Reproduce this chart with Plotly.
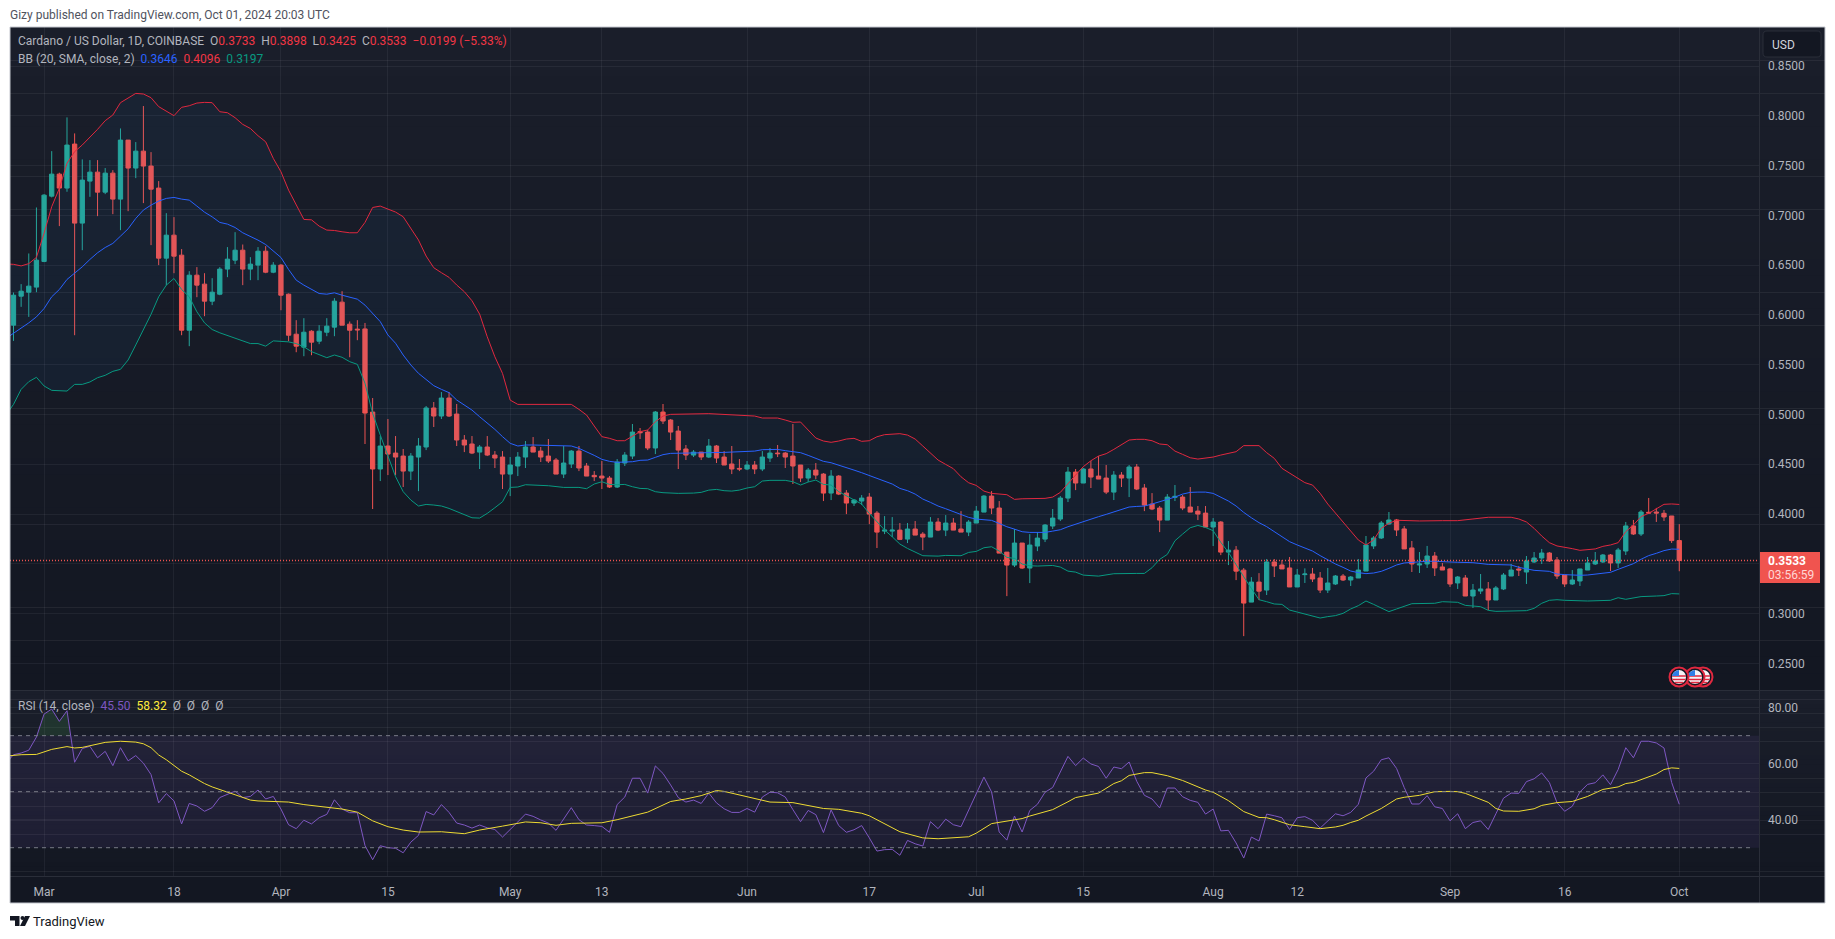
#!/usr/bin/env python3
"""Cardano / US Dollar daily chart with Bollinger Bands and RSI"""
import math
import pandas as pd
import plotly.graph_objects as go

W, H = 1835, 939

# one candle per day, first one is 2024-02-26
opens = [
    .5897, .6188, .6228, .6279, .6537, .7193, .7414, .7274, .7716, .6922,
    .7344, .7434, .7233, .7424, .7163, .7756, .7475, .7645, .7495, .7274,
    .6570, .6801, .6600, .5846, .6399, .6309, .6138, .6208, .6460, .6550,
    .6650, .6460, .6500, .6640, .6429, .6500, .6208, .5806, .5676, .5836,
    .5736, .5826, .5877, .6128, .5907, .5857, .5859, .5024, .4452, .4683,
    .4612, .4582, .4431, .4572, .4673, .5065, .4984, .5165, .5004, .4743,
    .4703, .4622, .4673, .4592, .4572, .4401, .4482, .4572, .4673, .4632,
    .4582, .4542, .4401, .4502, .4632, .4482, .4388, .4381, .4361, .4271,
    .4512, .4582, .4827, .4823, .4663, .5024, .4944, .4833, .4653, .4592,
    .4622, .4572, .4683, .4572, .4502, .4458, .4452, .4492, .4452, .4562,
    .4612, .4612, .4582, .4492, .4361, .4441, .4401, .4210, .4381, .4210,
    .4110, .4130, .4170, .4009, .3828, .3828, .3838, .3748, .3849, .3798,
    .3768, .3919, .3838, .3909, .3849, .3818, .3909, .4019, .4180, .4060,
    .3617, .3487, .3708, .3457, .3678, .3748, .3879, .3949, .4160, .4421,
    .4311, .4452, .4381, .4361, .4220, .4391, .4361, .4472, .4261, .4100,
    .4060, .3939, .4167, .4170, .4070, .4029, .4009, .3869, .3919, .3617,
    .3637, .3436, .3115, .3316, .3236, .3518, .3488, .3458, .3267, .3391,
    .3397, .3357, .3236, .3297, .3377, .3337, .3357, .3427, .3679, .3759,
    .3900, .3940, .3850, .3659, .3488, .3498, .3578, .3468, .3448, .3307,
    .3357, .3176, .3226, .3247, .3136, .3247, .3377, .3448, .3417, .3518,
    .3558, .3608, .3538, .3387, .3297, .3327, .3437, .3498, .3518, .3588,
    .3508, .3628, .3880, .3799, .4017, .4020, .4007, .3980, .3733,
]
highs = [
    .6225, .6309, .6617, .7079, .7213, .7645, .7428, .7984, .7823, .7562,
    .7555, .7555, .7475, .7454, .7873, .7756, .7736, .8098, .7635, .7344,
    .7022, .6982, .6661, .6439, .6480, .6419, .6369, .6480, .6681, .6831,
    .6707, .6580, .6681, .6691, .6530, .6510, .6215, .5947, .5967, .5846,
    .5897, .5967, .6168, .6238, .5934, .5947, .5919, .5165, .4783, .4954,
    .4783, .4653, .4612, .4763, .5085, .5125, .5225, .5225, .5105, .4793,
    .4783, .4693, .4783, .4632, .4632, .4572, .4622, .4733, .4773, .4673,
    .4753, .4562, .4683, .4642, .4683, .4512, .4431, .4532, .4381, .4552,
    .4622, .4904, .4864, .4843, .5034, .5105, .4954, .4884, .4693, .4642,
    .4622, .4753, .4693, .4632, .4683, .4552, .4532, .4532, .4632, .4663,
    .4693, .4622, .4904, .4492, .4462, .4512, .4411, .4441, .4391, .4240,
    .4150, .4190, .4210, .4029, .3979, .3969, .3909, .3909, .3929, .3818,
    .3969, .3959, .3989, .3959, .4029, .3939, .4080, .4190, .4230, .4130,
    .3617, .3849, .3708, .3798, .3818, .3899, .4050, .4180, .4472, .4452,
    .4462, .4532, .4582, .4492, .4431, .4421, .4492, .4502, .4301, .4210,
    .4080, .4200, .4291, .4190, .4271, .4080, .4080, .3959, .3929, .3728,
    .3678, .3457, .3366, .3406, .3548, .3548, .3538, .3568, .3448, .3454,
    .3458, .3417, .3458, .3387, .3397, .3377, .3548, .3779, .3779, .3930,
    .4020, .3950, .3880, .3729, .3618, .3679, .3618, .3508, .3458, .3377,
    .3387, .3297, .3397, .3317, .3277, .3407, .3498, .3478, .3578, .3618,
    .3649, .3618, .3568, .3387, .3437, .3448, .3568, .3618, .3598, .3598,
    .3659, .3920, .3940, .4040, .4161, .4061, .4040, .3980, .3898,
]
lows = [
    .5739, .6081, .5980, .6228, .6530, .7180, .6892, .7237, .5796, .6650,
    .7186, .6992, .7213, .7012, .6851, .7042, .7374, .7123, .6701, .6500,
    .6299, .6419, .5796, .5686, .6178, .5987, .6098, .6198, .6379, .6510,
    .6299, .6349, .6349, .6419, .6419, .6047, .5736, .5625, .5585, .5595,
    .5706, .5786, .5786, .5897, .5575, .5746, .4703, .4050, .4331, .4391,
    .4391, .4271, .4341, .4230, .4642, .4874, .4954, .4974, .4683, .4622,
    .4602, .4452, .4582, .4462, .4251, .4180, .4381, .4462, .4622, .4522,
    .4512, .4401, .4361, .4462, .4431, .4381, .4331, .4251, .4261, .4261,
    .4482, .4552, .4753, .4642, .4602, .4904, .4743, .4452, .4542, .4572,
    .4542, .4562, .4512, .4492, .4401, .4431, .4441, .4401, .4431, .4522,
    .4572, .4462, .4301, .4321, .4321, .4351, .4130, .4140, .4190, .3999,
    .4080, .4090, .3899, .3658, .3798, .3768, .3738, .3708, .3788, .3637,
    .3768, .3828, .3778, .3838, .3818, .3778, .3909, .4019, .3999, .3607,
    .3175, .3467, .3447, .3306, .3627, .3718, .3849, .3929, .4120, .4240,
    .4311, .4261, .4351, .4200, .4140, .4271, .4170, .4240, .4029, .4039,
    .3818, .3939, .4130, .4039, .4019, .3939, .3869, .3678, .3587, .3487,
    .3336, .2773, .3115, .3135, .3186, .3367, .3448, .3267, .3267, .3307,
    .3317, .3206, .3206, .3287, .3327, .3277, .3357, .3427, .3649, .3749,
    .3890, .3779, .3649, .3417, .3407, .3458, .3377, .3437, .3267, .3247,
    .3176, .3056, .3196, .3035, .3136, .3236, .3377, .3377, .3297, .3508,
    .3498, .3518, .3347, .3267, .3287, .3277, .3437, .3488, .3508, .3427,
    .3458, .3588, .3789, .3779, .4000, .3920, .3930, .3709, .3425,
]
closes = [
    .6198, .6238, .6289, .6550, .7203, .7414, .7274, .7706, .6922, .7354,
    .7434, .7233, .7424, .7163, .7756, .7475, .7645, .7495, .7263, .6570,
    .6801, .6590, .5846, .6399, .6299, .6138, .6228, .6460, .6560, .6650,
    .6460, .6510, .6640, .6429, .6500, .6198, .5796, .5686, .5826, .5726,
    .5836, .5887, .6138, .5897, .5846, .5850, .5014, .4452, .4683, .4602,
    .4572, .4431, .4582, .4683, .5065, .4984, .5165, .4984, .4743, .4693,
    .4612, .4673, .4592, .4562, .4401, .4492, .4572, .4673, .4622, .4572,
    .4532, .4401, .4512, .4632, .4462, .4381, .4374, .4361, .4271, .4522,
    .4592, .4823, .4817, .4663, .5024, .4934, .4823, .4642, .4592, .4622,
    .4572, .4683, .4562, .4492, .4452, .4452, .4492, .4452, .4572, .4612,
    .4606, .4572, .4482, .4361, .4441, .4391, .4210, .4381, .4200, .4110,
    .4140, .4160, .3999, .3818, .3838, .3838, .3745, .3849, .3788, .3768,
    .3919, .3838, .3909, .3838, .3818, .3919, .4029, .4180, .4060, .3607,
    .3487, .3708, .3457, .3688, .3758, .3889, .3959, .4160, .4421, .4311,
    .4452, .4371, .4351, .4220, .4391, .4361, .4472, .4251, .4090, .4050,
    .3939, .4170, .4177, .4060, .4019, .3999, .3869, .3919, .3617, .3637,
    .3426, .3105, .3316, .3225, .3518, .3478, .3448, .3267, .3387, .3397,
    .3347, .3236, .3307, .3377, .3337, .3367, .3437, .3689, .3759, .3910,
    .3940, .3839, .3649, .3498, .3498, .3578, .3458, .3437, .3297, .3367,
    .3176, .3236, .3247, .3136, .3257, .3387, .3437, .3437, .3528, .3558,
    .3608, .3528, .3377, .3297, .3337, .3448, .3508, .3528, .3588, .3508,
    .3638, .3880, .3799, .4020, .4010, .4010, .3970, .3733, .3533,
]

# Bollinger lines, read as (candle number, value) vertices
bb_upper_idx = list(range(-1, 67)) + [73, 74, 75, 76, 77, 78, 79, 80, 81, 82, 83, 84, 85, 86, 91, 96, 97, 98, 100, 101,
    102, 103, 104, 105, 106, 107, 108, 109, 110, 111, 112, 113, 114, 115, 116, 117, 118, 119, 120, 121, 122, 123, 124,
    125, 126, 127, 128, 130, 131, 132, 135, 136, 137, 138, 139, 140, 141, 142, 143, 144, 145, 146, 147, 148, 149, 150,
    151, 152, 153, 154, 155, 156, 157, 158, 159, 160, 161, 162, 163, 164, 165, 166, 167, 168, 169, 170, 171, 172, 173,
    174, 175, 176, 177, 178, 179, 180, 181, 182, 184, 187, 189, 191, 193, 196, 197, 198, 199, 200, 201, 202, 203, 204,
    205, 206, 207, 208, 209, 210, 211, 212, 213, 214, 215, 216, 217, 218]
bb_upper = [
    .6512, .6508, .6492, .6515, .6578, .6820, .7087, .7271, .7523, .7640, .7707, .7784, .7864, .7951, .8008, .8132,
    .8175, .8225, .8219, .8182, .8092, .8045, .8001, .8085, .8101, .8128, .8135, .8132, .8041, .8031, .7981, .7914,
    .7873, .7800, .7739, .7572, .7438, .7253, .7102, .6959, .6955, .6892, .6852, .6848, .6835, .6825, .6825, .6929,
    .7079, .7093, .7063, .7033, .6986, .6869, .6752, .6591, .6474, .6424, .6377, .6300, .6233, .6142, .6008, .5780,
    .5579, .5412, .5144, .5101,
    .5101, .5051, .4994, .4884, .4777, .4760, .4736, .4736, .4783, .4827, .4844, .4927, .4984, .5001, .5008, .4994,
    .4984, .4964, .4964, .4944, .4921, .4924, .4844, .4763, .4733, .4720, .4733, .4753, .4760, .4730, .4736, .4776,
    .4797, .4803, .4807, .4793, .4753, .4683, .4609, .4542, .4498, .4455, .4374, .4314, .4287, .4230, .4207, .4194,
    .4147, .4153, .4157, .4170, .4217, .4307, .4391, .4475, .4535, .4582, .4606, .4649, .4693, .4743, .4750, .4750,
    .4736, .4703, .4696, .4632, .4599, .4565, .4552, .4559, .4572, .4592, .4609, .4626, .4687, .4687, .4687, .4616,
    .4559, .4459, .4408, .4358, .4315, .4291, .4208, .4100, .4007, .3923, .3823, .3739, .3689, .3739, .3856, .3907,
    .3937, .3933, .3930, .3933, .3933, .3950, .3967, .3967, .3950, .3920, .3856, .3779, .3712, .3679, .3669, .3652,
    .3635, .3639, .3649, .3675, .3689, .3712, .3823, .3890, .3974, .4007, .4054, .4097, .4101, .4096,
]

bb_basis_idx = list(range(-1, 68)) + [68, 70, 72, 73, 74, 75, 76, 77, 78, 79, 80, 81, 82, 83, 84, 85, 86, 87, 89, 91,
    93, 96] + list(range(97, 190)) + [191, 193, 195, 196, 197, 198, 199, 201] + list(range(202, 219))
bb_basis = [
    .5763, .5813, .5863, .5920, .5980, .6064, .6182, .6255, .6356, .6416, .6483, .6557, .6624, .6677, .6718, .6791,
    .6865, .6969, .7053, .7103, .7143, .7170, .7180, .7163, .7153, .7093, .7032, .6985, .6929, .6912, .6878, .6825,
    .6791, .6751, .6707, .6640, .6577, .6456, .6349, .6299, .6259, .6215, .6208, .6222, .6198, .6175, .6158, .6098,
    .6016, .5932, .5798, .5715, .5597, .5497, .5413, .5346, .5289, .5252, .5219, .5145, .5095, .5044, .4977, .4917,
    .4850, .4777, .4710, .4683, .4693,
    .4693, .4689, .4683, .4683, .4659, .4626, .4589, .4549, .4529, .4519, .4519, .4525, .4539, .4542, .4569, .4596,
    .4609, .4609, .4609, .4616, .4619, .4629,
    .4632, .4646, .4649, .4649, .4636, .4626, .4616, .4589, .4559, .4529, .4515, .4488, .4465, .4441, .4415, .4385,
    .4358, .4324, .4301, .4257, .4234, .4200, .4150, .4117, .4080, .4053, .4026, .3996, .3966, .3949, .3946, .3936,
    .3905, .3872, .3848, .3822, .3815, .3812, .3815, .3828, .3842, .3872, .3899, .3926, .3949, .3973, .3996, .4023,
    .4046, .4070, .4076, .4080, .4100, .4123, .4147, .4170, .4200, .4217, .4220, .4220, .4207, .4167, .4130, .4080,
    .4016, .3962, .3913, .3873, .3823, .3773, .3722, .3689, .3655, .3628, .3582, .3538, .3498, .3464, .3427, .3411,
    .3401, .3407, .3424, .3454, .3488, .3508, .3515, .3518, .3525, .3525, .3525, .3518, .3515,
    .3511, .3494, .3491, .3488, .3464, .3451, .3434, .3424,
    .3397, .3391, .3384, .3384, .3387, .3394, .3404, .3414, .3444, .3471, .3501, .3545, .3582, .3605, .3632, .3648,
    .3646,
]

bb_lower_idx = list(range(-1, 69)) + [70, 72, 73, 74, 75, 76, 77, 78, 79, 80, 81, 82, 83, 84, 85, 87, 89, 90, 91, 92,
    93, 94, 95, 96, 97, 98, 99, 100, 101, 102, 103, 104, 105, 106, 107, 108, 109, 110, 111, 112, 113, 114, 115, 116,
    117, 118, 119, 121, 122, 124, 125, 126, 127, 128, 129, 130, 131, 132, 133, 134, 136, 137, 138, 139, 140, 142, 143,
    144, 147, 148, 149, 150, 151, 152, 153, 154, 155, 156, 157, 158, 159, 160, 161, 162, 163, 164, 165, 166, 167, 168,
    169, 170, 171, 172, 173, 174, 175, 176, 177, 178, 179, 180, 181, 182, 183, 186, 187, 189, 190, 192, 193, 194, 198,
    199, 200, 201, 202, 203, 206, 209, 210, 211, 213, 215, 216, 217, 218]
bb_lower = [
    .4994, .5101, .5252, .5329, .5373, .5286, .5242, .5242, .5235, .5302, .5302, .5326, .5369, .5393, .5433, .5453,
    .5547, .5698, .5849, .6006, .6182, .6299, .6366, .6255, .6182, .6031, .5920, .5853, .5820, .5793, .5769, .5739,
    .5712, .5712, .5686, .5739, .5736, .5729, .5712, .5679, .5631, .5597, .5570, .5597, .5574, .5530, .5503, .5313,
    .5011, .4793, .4576, .4375, .4224, .4140, .4080, .4096, .4090, .4080, .4056, .4023, .3989, .3962, .3959, .4006,
    .4063, .4123, .4267, .4271, .4294, .4291,
    .4284, .4267, .4267, .4267, .4254, .4301, .4324, .4297, .4294, .4297, .4274, .4257, .4254, .4224, .4214, .4207,
    .4210, .4217, .4240, .4247, .4234, .4230, .4240, .4261, .4274, .4331, .4338, .4338, .4338, .4324, .4291, .4321,
    .4341, .4297, .4291, .4224, .4180, .4140, .4100, .4006, .3922, .3839, .3771, .3698, .3654, .3614, .3581, .3577,
    .3584, .3581, .3614, .3624, .3661, .3671, .3628, .3564, .3554, .3497, .3480, .3477, .3483, .3467, .3426, .3416,
    .3386, .3376, .3390, .3400, .3403, .3403, .3460, .3544, .3594, .3731, .3798, .3862, .3885, .3865, .3832, .3715,
    .3614, .3487, .3369, .3252, .3139, .3119, .3096, .3092, .3035, .3015, .2995, .2969, .2955, .2969, .2979, .3002,
    .3046, .3079, .3126, .3092, .3059, .3019, .3046, .3069, .3099, .3103, .3119, .3113, .3082, .3069, .3032, .3022,
    .3029, .3052, .3103, .3133, .3139, .3133, .3126, .3133, .3159, .3143, .3170, .3176, .3180, .3200, .3197,
]

# RSI per day, first value is the day before the first candle
rsi = [
    60.2, 63.2, 63.8, 64.8, 69.5, 77.7, 79.5, 75.1, 78.9, 60.5, 65.4, 66.2, 62.1, 64.4, 59.3, 65.7, 61.0, 62.9, 60.2,
    56.1, 46.0, 49.3, 46.7, 38.5, 45.8, 44.9, 43.0, 44.3, 47.9, 49.0, 50.2, 47.9, 48.3, 50.6, 47.4, 48.3, 43.8, 38.2,
    36.8, 39.8, 38.5, 40.7, 41.9, 47.1, 43.8, 42.5, 42.5, 30.8, 25.7, 30.7, 30.0, 29.8, 28.2, 32.0, 34.4, 42.9, 41.7,
    45.4, 42.6, 38.8, 38.1, 37.0, 38.1, 37.1, 36.5, 33.8, 36.4, 39.2, 42.0, 41.2, 39.9, 38.8, 36.2, 40.2, 44.3, 40.0,
    38.1, 37.9, 37.6, 35.5, 45.4, 48.1, 54.8, 54.8, 49.5, 59.2, 56.5, 52.4, 47.9, 46.3, 47.0, 45.8, 49.5, 46.0, 43.9,
    42.6, 42.6, 44.0, 42.7, 48.1, 49.8, 49.6, 48.1, 43.6, 39.3, 43.3, 41.8, 35.4, 43.5, 37.9, 35.5, 36.4, 37.9, 33.5,
    28.8, 29.3, 29.4, 27.3, 32.6, 31.4, 30.6, 39.3, 36.8, 40.2, 38.2, 37.5, 43.2, 48.9, 55.2, 49.9, 35.6, 32.7, 41.3,
    35.6, 43.3, 45.5, 49.8, 51.5, 57.3, 62.6, 59.3, 62.0, 59.9, 59.0, 54.8, 58.8, 58.2, 60.6, 53.7, 48.7, 47.4, 44.2,
    51.3, 51.3, 48.2, 46.9, 46.2, 42.0, 43.8, 36.0, 36.2, 31.7, 26.3, 33.8, 32.4, 42.0, 41.4, 40.7, 36.5, 40.7, 41.1,
    39.8, 37.0, 39.5, 42.1, 41.4, 42.6, 45.5, 54.9, 57.3, 61.4, 62.1, 58.3, 51.5, 45.6, 45.6, 48.6, 44.6, 44.0, 39.6,
    42.1, 36.8, 39.0, 39.6, 36.5, 42.1, 47.7, 49.5, 49.4, 53.6, 54.6, 56.7, 53.3, 46.1, 43.0, 44.8, 49.9, 52.6, 53.2,
    56.0, 52.5, 57.9, 65.7, 62.1, 68.0, 68.0, 67.4, 65.6, 53.3, 45.5,
]
rsi_ma_idx = [
    -1, 0, 1, 3, 5, 7, 8, 9, 12, 14, 16, 17, 18, 19, 20, 22, 23, 25, 26, 29, 31, 32, 35, 36, 38, 40, 42, 43, 45, 47, 49,
    51, 53, 56, 59, 61, 64, 67, 69, 71, 73, 77, 79, 83, 86, 88, 90, 92, 93, 96, 99, 102, 104, 106, 108, 111, 112, 114,
    116, 119, 121, 125, 126, 128, 131, 132, 133, 136, 138, 139, 142, 144, 145, 146, 148, 149, 151, 153, 156, 157, 159,
    161, 163, 164, 165, 167, 169, 171, 173, 174, 175, 176, 177, 179, 181, 182, 184, 186, 188, 189, 190, 192, 193, 194,
    195, 197, 199, 200, 202, 203, 204, 206, 208, 210, 211, 212, 214, 215, 216, 217, 218,
]
rsi_ma = [
    62.7, 62.9, 63.2, 63.3, 65.1, 66.1, 65.6, 65.8, 67.6, 68.0, 67.7, 67.1, 65.7, 63.1, 61.4, 57.3, 56.0, 52.9, 51.7,
    48.9, 47.0, 46.7, 46.4, 46.3, 45.4, 44.8, 44.2, 43.8, 42.7, 39.6, 37.5, 36.3, 35.6, 35.7, 35.0, 36.3, 37.7, 39.2,
    38.9, 38.0, 38.7, 38.9, 40.0, 42.7, 46.5, 47.4, 48.6, 50.4, 50.1, 48.1, 46.3, 46.1, 45.1, 44.0, 43.7, 42.3, 41.4,
    38.6, 35.7, 33.5, 33.2, 33.9, 35.2, 38.6, 39.8, 40.4, 41.3, 43.6, 46.4, 47.9, 49.5, 52.9, 53.9, 55.8, 56.8, 56.8,
    55.7, 54.0, 50.6, 49.8, 46.8, 42.9, 40.8, 40.7, 40.0, 38.2, 37.5, 36.8, 37.4, 38.0, 39.0, 39.8, 41.3, 44.0, 47.4,
    48.0, 48.7, 50.0, 50.1, 50.0, 49.4, 47.4, 46.2, 44.0, 43.1, 43.0, 43.9, 45.1, 46.1, 46.3, 46.5, 48.3, 50.8, 51.7,
    52.9, 53.3, 55.4, 56.3, 57.9, 58.5, 58.3,
]

price_ticks = [.25, .30, .35, .40, .45, .50, .55, .60, .65, .70, .75, .80, .85]
price_labels = ['0.2500', '0.3000', '', '0.4000', '0.4500', '0.5000', '0.5500', '0.6000', '0.6500', '0.7000',
                '0.7500', '0.8000', '0.8500']
rsi_ticks = [40, 60, 80]
rsi_labels = ['40.00', '60.00', '80.00']
time_ticks = ['2024-03-01', '2024-03-18', '2024-04-01', '2024-04-15', '2024-05-01', '2024-05-13', '2024-06-01',
              '2024-06-17', '2024-07-01', '2024-07-15', '2024-08-01', '2024-08-12', '2024-09-01', '2024-09-16',
              '2024-10-01']
time_labels = ['Mar', '18', 'Apr', '15', 'May', '13', 'Jun', '17', 'Jul', '15', 'Aug', '12', 'Sep', '16', 'Oct']
last_price = .3533

UP, DOWN = '#26a69a', '#ef5350'
TEXT = '#b2b5be'
GRID = 'rgba(240,243,250,0.06)'
LINE = '#2a2e39'
FONT = 'Roboto'

first_day = pd.Timestamp('2024-02-26')
days = pd.date_range(first_day, periods=len(closes))


def day_of(idx):
    return [first_day + pd.Timedelta(days=i) for i in idx]


def px(x):
    return x / W


def py(y):
    return 1 - y / H


def blend(c1, c2, t):
    return 'rgb(%d,%d,%d)' % tuple(round(a + (b - a) * t) for a, b in zip(c1, c2))


fig = go.Figure()

# Bollinger band area and lines
fig.add_trace(go.Scatter(x=day_of(bb_upper_idx), y=bb_upper, mode='lines', line=dict(color='#e0283f', width=1),
                         xaxis='x', yaxis='y'))
fig.add_trace(go.Scatter(x=day_of(bb_lower_idx), y=bb_lower, mode='lines', line=dict(color='#089981', width=1),
                         fill='tonexty', fillcolor='rgba(33,150,243,0.055)', xaxis='x', yaxis='y'))
fig.add_trace(go.Candlestick(x=days, open=opens, high=highs, low=lows, close=closes,
                             increasing=dict(line=dict(color=UP, width=1), fillcolor=UP),
                             decreasing=dict(line=dict(color=DOWN, width=1), fillcolor=DOWN),
                             whiskerwidth=0, xaxis='x', yaxis='y'))
fig.add_trace(go.Scatter(x=day_of(bb_basis_idx), y=bb_basis, mode='lines', line=dict(color='#2962ff', width=1),
                         xaxis='x', yaxis='y'))

# green area where the RSI goes over 70
rsi_days = day_of(range(-1, len(closes)))
over = [i for i, v in enumerate(rsi) if v > 70][:4]
drop = (rsi[over[-1]] - 70) / (rsi[over[-1]] - rsi[over[-1] + 1])
over_end = rsi_days[over[-1]] + pd.Timedelta(days=drop)
fig.add_trace(go.Scatter(x=[rsi_days[over[0] - 1]] + [rsi_days[i] for i in over] + [over_end],
                         y=[70] + [rsi[i] for i in over] + [70],
                         mode='none', fill='toself', fillcolor='rgba(76,175,80,0.16)', xaxis='x2', yaxis='y2'))
fig.add_trace(go.Scatter(x=rsi_days, y=rsi, mode='lines', line=dict(color='#7e57c2', width=1), xaxis='x2', yaxis='y2'))
fig.add_trace(go.Scatter(x=day_of(rsi_ma_idx), y=rsi_ma, mode='lines', line=dict(color='#eedb33', width=1),
                         xaxis='x2', yaxis='y2'))

shapes = []
# pane backgrounds are vertical gradients, built from thin bands
top_color, bottom_color = (26, 30, 42), (19, 23, 34)
for y0, y1 in [(27, 690), (690, 876)]:
    n = 40
    for k in range(n):
        a = y0 + (y1 - y0) * k / n
        b = y0 + (y1 - y0) * (k + 1) / n
        shapes.append(dict(type='rect', xref='paper', yref='paper', x0=px(10), x1=px(1825), y0=py(a), y1=py(b + 0.5),
                           fillcolor=blend(top_color, bottom_color, k / (n - 1)), line=dict(width=0), layer='below'))
shapes.append(dict(type='rect', xref='paper', yref='paper', x0=px(10), x1=px(1825), y0=py(876), y1=py(903),
                   fillcolor='rgb(19,23,34)', line=dict(width=0), layer='below'))
# RSI band between 30 and 70
shapes.append(dict(type='rect', xref='x2 domain', yref='y2', x0=0, x1=1, y0=30, y1=70,
                   fillcolor='rgba(126,87,194,0.1)', line=dict(width=0), layer='below'))
for level in [30, 50, 70]:
    shapes.append(dict(type='line', xref='x2 domain', yref='y2', x0=0, x1=0.9965, y0=level, y1=level,
                       line=dict(color='#787b86', width=1, dash='4px,4px')))
# dotted line at the last price
shapes.append(dict(type='line', xref='x domain', yref='y', x0=0, x1=1, y0=last_price, y1=last_price,
                   line=dict(color=DOWN, width=1.5, dash='1px,2px')))
# pane separators and outer frame
for x0, y0, x1, y1 in [(10, 690.5, 1825, 690.5), (10, 876.5, 1825, 876.5), (1759.5, 27, 1759.5, 903)]:
    shapes.append(dict(type='line', xref='paper', yref='paper', x0=px(x0), x1=px(x1), y0=py(y0), y1=py(y1),
                       line=dict(color=LINE, width=1)))
shapes.append(dict(type='rect', xref='paper', yref='paper', x0=px(10), x1=px(1825), y0=py(27), y1=py(903),
                   line=dict(color='#c4c7ce', width=1)))
# USD button with rounded corners
b = [(1763, 31), (1821, 31), (1821, 57), (1763, 57)]
r = 4
shapes.append(dict(type='path', xref='paper', yref='paper', fillcolor='#131722', line=dict(color=LINE, width=1),
                   path='M %f %f L %f %f Q %f %f %f %f L %f %f Q %f %f %f %f L %f %f Q %f %f %f %f L %f %f Q %f %f %f %f Z' % (
                       px(1763 + r), py(31), px(1821 - r), py(31), px(1821), py(31), px(1821), py(31 + r),
                       px(1821), py(57 - r), px(1821), py(57), px(1821 - r), py(57),
                       px(1763 + r), py(57), px(1763), py(57), px(1763), py(57 - r),
                       px(1763), py(31 + r), px(1763), py(31), px(1763 + r), py(31))))
# last price tag
shapes.append(dict(type='rect', xref='paper', yref='paper', x0=px(1760), x1=px(1820), y0=py(552), y1=py(583),
                   fillcolor='#f0544f', line=dict(width=0)))


# economic event flags
def flag(cx, cy):
    items = [dict(type='circle', x0=cx - 9.5, x1=cx + 9.5, y0=cy - 9.5, y1=cy + 9.5, fillcolor='#131722',
                  line=dict(color='#e0283f', width=2)),
             dict(type='circle', x0=cx - 7, x1=cx + 7, y0=cy - 7, y1=cy + 7, fillcolor='#f4f4f6', line=dict(width=0))]
    for dy in [-1, 2.5, 5.5]:
        half = math.sqrt(max(49 - dy * dy, 0))
        items.append(dict(type='line', x0=cx - half, x1=cx + half, y0=cy + dy, y1=cy + dy,
                          line=dict(color='#e0283f', width=1.5)))
    items.append(dict(type='path', path='M %f %f L %f %f L %f %f Q %f %f %f %f Z' % (
        cx, cy - 7, cx, cy - 1, cx - 6.9, cy - 1, cx - 6, cy - 6, cx, cy - 7), fillcolor='#2f7fe6', line=dict(width=0)))
    return items


for cx in [1703, 1695, 1679]:
    for item in flag(cx, 677):
        new = dict(item)
        new['xref'] = new['yref'] = 'paper'
        if new['type'] == 'path':
            tok = new['path'].split()
            out, is_x = [], True
            for t in tok:
                if t.replace('.', '').replace('-', '').isdigit():
                    out.append(str(px(float(t)) if is_x else py(float(t))))
                    is_x = not is_x
                else:
                    out.append(t)
            new['path'] = ' '.join(out)
        else:
            new['x0'], new['x1'] = px(new['x0']), px(new['x1'])
            new['y0'], new['y1'] = py(new['y0']), py(new['y1'])
        shapes.append(new)

# TradingView logo
shapes.append(dict(type='path', xref='paper', yref='paper', fillcolor='#131722', line=dict(width=0),
                   path='M %f %f L %f %f L %f %f L %f %f L %f %f L %f %f Z' % (
                       px(10), py(916), px(19.5), py(916), px(19.5), py(926), px(15), py(926), px(15), py(920.5),
                       px(10), py(920.5))))
shapes.append(dict(type='circle', xref='paper', yref='paper', x0=px(20.5), x1=px(24.5), y0=py(916), y1=py(920),
                   fillcolor='#131722', line=dict(width=0)))
shapes.append(dict(type='path', xref='paper', yref='paper', fillcolor='#131722', line=dict(width=0),
                   path='M %f %f L %f %f L %f %f L %f %f Z' % (
                       px(25), py(916), px(30), py(916), px(25), py(926), px(20), py(926))))


def note(x, y, text, size=12, color=TEXT, anchor='left', family=FONT):
    # annotations carry 2px of padding on the left
    return dict(xref='paper', yref='paper', x=px(x - 2), y=py(y), text=text, showarrow=False, xanchor=anchor,
                yanchor='middle', align=anchor, font=dict(family=family, size=size, color=color))


def tinted(text, color):
    return '<span style="color:%s">%s</span>' % (color, text)


gap = '\u00a0\u00a0'
annotations = [
    note(10, 15, 'Gizy published on TradingView.com, Oct 01, 2024 20:03 UTC', 12, '#50535e'),
    note(18, 41, 'Cardano / US Dollar, 1D, COINBASE' + gap + 'O' + tinted('0.3733', '#f23645') + gap + 'H'
         + tinted('0.3898', '#f23645') + gap + 'L' + tinted('0.3425', '#f23645') + gap + 'C'
         + tinted('0.3533', '#f23645') + gap + tinted('\u22120.0199 (\u22125.33%)', '#f23645')),
    note(18, 59, 'BB (20, SMA, close, 2)' + gap + tinted('0.3646', '#2962ff') + gap + tinted('0.4096', '#f23645')
         + gap + tinted('0.3197', '#089981')),
    note(18, 706, 'RSI (14, close)' + gap + tinted('45.50', '#7e57c2') + gap + tinted('58.32', '#ffeb3b') + gap
         + '\u00d8' + gap + '\u00d8' + gap + '\u00d8' + gap + '\u00d8'),
    note(1772, 45, 'USD', 12, '#d1d4dc'),
    note(1768, 561, '<b>0.3533</b>', 12, '#ffffff'),
    note(1768, 575, '03:56:59', 12, '#ffd6d6'),
    note(33, 921, 'TradingView', 13, '#131722'),
]

axis_font = dict(family=FONT, size=12, color=TEXT)
fig.update_layout(
    width=W, height=H,
    margin=dict(l=0, r=0, t=0, b=0),
    autosize=False,
    paper_bgcolor='#ffffff',
    plot_bgcolor='rgba(0,0,0,0)',
    showlegend=False,
    hovermode=False,
    boxgap=0.2,
    shapes=shapes,
    annotations=annotations,
    xaxis=dict(domain=[px(10), px(1759.5)], range=['2024-02-25 13:00', '2024-10-11 12:00'], anchor='y',
               rangeslider=dict(visible=False), tickvals=time_ticks, showticklabels=False, ticks='',
               showgrid=True, gridcolor=GRID, gridwidth=1, zeroline=False, showline=False),
    yaxis=dict(domain=[py(690), py(27)], range=[.2232, .8892], anchor='x', side='right', tickvals=price_ticks,
               ticktext=price_labels, tickfont=axis_font, ticks='outside', ticklen=5, tickcolor='rgba(0,0,0,0)',
               showgrid=True, gridcolor=GRID, gridwidth=1, zeroline=False, showline=False),
    xaxis2=dict(domain=[px(10), px(1759.5)], range=['2024-02-25 13:00', '2024-10-11 12:00'], anchor='y2',
                tickvals=time_ticks, ticktext=time_labels, tickfont=axis_font, ticks='outside', ticklen=5,
                tickcolor='rgba(0,0,0,0)', tickangle=0, showgrid=True, gridcolor=GRID, gridwidth=1, zeroline=False,
                showline=False),
    yaxis2=dict(domain=[py(876), py(690)], range=[19.9, 86.3], anchor='x2', side='right', tickvals=rsi_ticks,
                ticktext=rsi_labels, tickfont=axis_font, ticks='outside', ticklen=5, tickcolor='rgba(0,0,0,0)',
                showgrid=True, gridcolor=GRID, gridwidth=1, zeroline=False, showline=False),
)

fig.write_html("out.html", config=dict(displayModeBar=False),
               post_script="document.body.style.margin='0';document.documentElement.style.overflow='hidden';")
